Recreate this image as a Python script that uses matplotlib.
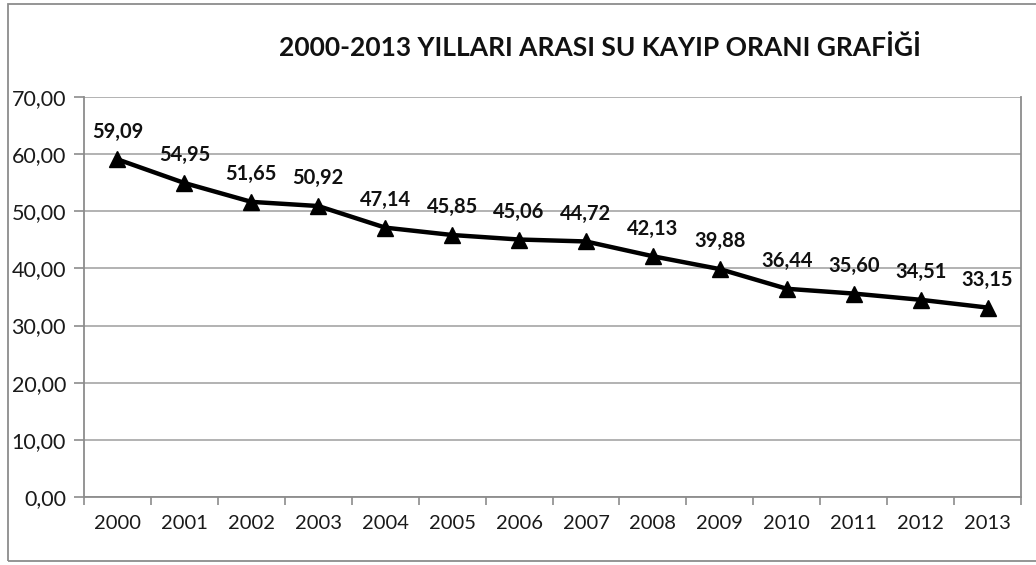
import matplotlib.pyplot as plt
from matplotlib.patches import Rectangle

plt.rcParams['font.family'] = ['Lato', 'DejaVu Sans']

years = ['2000', '2001', '2002', '2003', '2004', '2005', '2006',
         '2007', '2008', '2009', '2010', '2011', '2012', '2013']
loss_rate = [59.09, 54.95, 51.65, 50.92, 47.14, 45.85, 45.06,
             44.72, 42.13, 39.88, 36.44, 35.60, 34.51, 33.15]
y_ticks = [0, 10, 20, 30, 40, 50, 60, 70]

fig = plt.figure(figsize=(10.36, 5.65), dpi=100)
ax = fig.add_axes([84 / 1036, 1 - 497 / 565, (1021 - 84) / 1036, (497 - 97) / 565])

# outer chart border
fig.patches.append(Rectangle((8 / 1036, 1 - 561 / 565), 1.1, 557 / 565,
                             transform=fig.transFigure, fill=False,
                             edgecolor='#8c8c8c', lw=1.3))

x = list(range(len(years)))
ax.plot(x, loss_rate, color='black', lw=3.2, marker='^', markersize=12,
        markerfacecolor='black', markeredgecolor='black', zorder=3)

for xi, v in zip(x, loss_rate):
    ax.annotate(f'{v:.2f}'.replace('.', ','), (xi, v), xytext=(0, 20),
                textcoords='offset points', ha='center', va='center',
                fontsize=14.5, fontweight='bold', color='#111111')

ax.set_xlim(-0.5, len(years) - 0.5)
ax.set_ylim(0, 70)
ax.set_yticks(y_ticks)
ax.set_yticklabels([f'{t:.2f}'.replace('.', ',') for t in y_ticks])
ax.set_xticks(x)
ax.set_xticklabels(years)
ax.set_xticks([i - 0.5 for i in range(len(years) + 1)], minor=True)

ax.tick_params(axis='x', which='major', length=0, pad=13, labelsize=14.5,
               colors='#1a1a1a')
ax.tick_params(axis='x', which='minor', length=6, color='#8c8c8c', width=1.2)
ax.tick_params(axis='y', length=7, color='#8c8c8c', width=1.2, pad=6,
               labelsize=15.5, labelcolor='#1a1a1a')

ax.grid(axis='y', color='#a6a6a6', lw=1.2)
ax.set_axisbelow(True)
for s in ax.spines.values():
    s.set_color('#8c8c8c')
    s.set_linewidth(1.3)
ax.spines['top'].set_visible(False)

fig.text(600 / 1036, 1 - 47 / 565, '2000-2013 YILLARI ARASI SU KAYIP ORANI GRAFİĞİ',
         ha='center', va='center', fontsize=19, fontweight='bold', color='#111111')

fig.savefig('out.png', dpi=100)
